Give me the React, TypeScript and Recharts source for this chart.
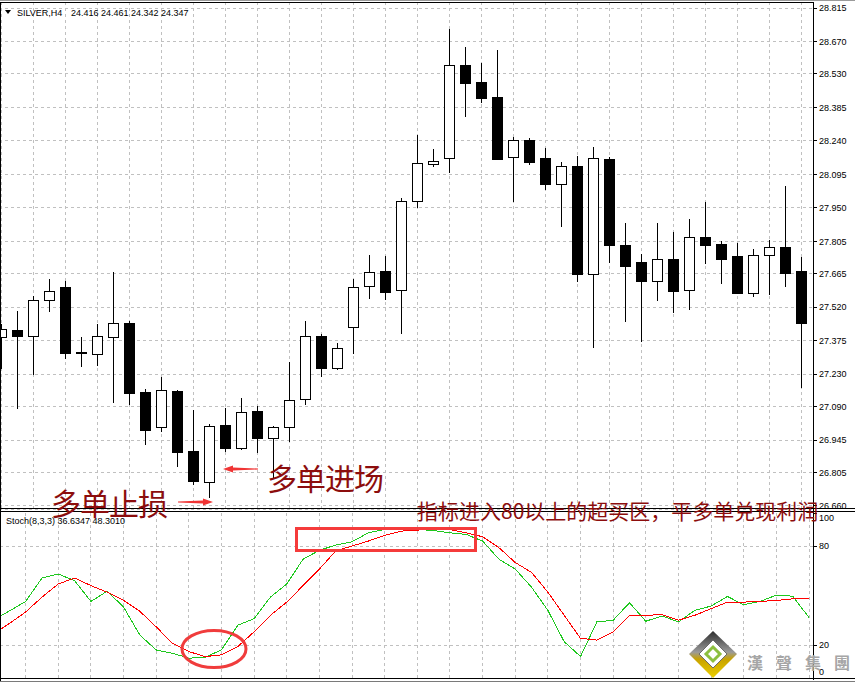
import React from "react";
import {
  ComposedChart,
  Bar,
  Line,
  XAxis,
  YAxis,
  CartesianGrid,
  ReferenceLine,
} from "recharts";

// SILVER H4 bars, oldest first
const opens = [
  27.39, 27.422, 27.397, 27.55, 27.606, 27.326, 27.319, 27.393, 27.451, 27.152,
  27.001, 27.156, 26.897, 26.765, 27.009, 26.912, 27.07, 26.956, 27.003, 27.122,
  27.394, 27.259, 27.433, 27.611, 27.676, 27.593, 27.979, 28.141, 28.165, 28.567,
  28.495, 28.43, 28.169, 28.243, 28.166, 28.055, 28.131, 27.665, 28.16, 27.788,
  27.715, 27.632, 27.729, 27.593, 27.823, 27.792, 27.741, 27.583, 27.745, 27.78,
  27.676,
];
const highs = [
  27.448, 27.504, 27.569, 27.642, 27.634, 27.391, 27.448, 27.671, 27.462, 27.165,
  27.218, 27.162, 27.075, 27.014, 27.085, 27.127, 27.093, 27.005, 27.283, 27.461,
  27.404, 27.367, 27.642, 27.746, 27.743, 27.992, 28.265, 28.204, 28.724, 28.646,
  28.577, 28.633, 28.256, 28.252, 28.209, 28.147, 28.175, 28.214, 28.172, 27.885,
  27.751, 27.885, 27.846, 27.902, 27.976, 27.805, 27.797, 27.772, 27.811, 28.045,
  27.738,
];
const lows = [
  27.257, 27.083, 27.23, 27.505, 27.302, 27.267, 27.27, 27.111, 27.101, 26.927,
  26.986, 26.834, 26.757, 26.7, 26.899, 26.905, 26.895, 26.787, 26.943, 27.103,
  27.224, 27.254, 27.323, 27.561, 27.556, 27.41, 27.954, 28.133, 28.105, 28.349,
  28.41, 28.163, 27.981, 28.141, 28.032, 27.873, 27.635, 27.347, 27.716, 27.462,
  27.374, 27.553, 27.501, 27.513, 27.712, 27.625, 27.583, 27.57, 27.579, 27.613,
  27.176,
];
const closes = [
  27.425, 27.397, 27.55, 27.589, 27.323, 27.32, 27.394, 27.451, 27.15, 26.99,
  27.161, 26.895, 26.77, 27.005, 26.912, 27.066, 26.956, 27.001, 27.119, 27.394,
  27.259, 27.342, 27.606, 27.671, 27.587, 27.979, 28.143, 28.152, 28.567, 28.492,
  28.427, 28.163, 28.243, 28.15, 28.055, 28.131, 27.665, 28.166, 27.791, 27.7,
  27.635, 27.728, 27.592, 27.823, 27.791, 27.73, 27.583, 27.745, 27.78, 27.67,
  27.453,
];

// Stochastic(8,3,3): main %K and signal %D
const stochK = [
  35, 40.6, 46.4, 60.6, 63, 59, 46.4, 52.6, 43, 26,
  17, 15, 12, 12.6, 17, 32, 36, 49, 57, 72,
  77.4, 80.6, 82.6, 88, 90, 90.4, 90, 89.4, 88, 87,
  83, 72, 66, 55, 41, 22, 13, 34, 35, 45.6,
  34.4, 37.6, 34, 41, 43.6, 49.4, 44.4, 46.4, 50.2, 49.6,
  36.6347,
];
const stochD = [
  26.4, 33, 40, 49, 57, 60.6, 56, 52, 47, 40.4,
  31, 21, 16, 13, 14, 19, 28, 38, 46, 56,
  66, 77, 80, 83, 86.4, 89, 89.6, 90.4, 90, 88,
  85.6, 79, 70, 64, 52, 38, 24, 23, 28, 38,
  38, 38.4, 35, 38, 42, 46, 46, 46.4, 47, 48,
  48.301,
];

const priceTicks = [
  28.815, 28.67, 28.53, 28.385, 28.24, 28.095, 27.95, 27.805, 27.665, 27.52,
  27.375, 27.23, 27.09, 26.945, 26.805, 26.66,
];
const stochTicks = [100, 80, 20, 0];
const stochLevels = [80, 20];

const candles = opens.map((o, i) => ({
  i,
  open: o,
  high: highs[i],
  low: lows[i],
  close: closes[i],
  range: [lows[i], highs[i]],
}));
const stochRows = stochK.map((k, i) => ({ i, k, d: stochD[i] }));
const gridTicks = candles.filter((c) => c.i % 2 === 0).map((c) => c.i);

const axisFont = { fontSize: 9, fill: "#000", fontFamily: "Liberation Sans" };
const gridStroke = "#c0c0c0";
const annotRed = "#8c0d0d";

function Candle(props: any) {
  const { x, y, width, height } = props;
  const d = props.payload ?? props;
  if (!isFinite(x) || !isFinite(y) || !height) return null;
  const k = height / (d.high - d.low);
  const py = (v: number) => Math.round(y + (d.high - v) * k);
  const cx = Math.floor(x + width / 2);
  const rising = d.close >= d.open;
  const top = py(Math.max(d.open, d.close));
  const bottom = py(Math.min(d.open, d.close));
  const h = Math.max(bottom - top, 1);
  return (
    <g>
      <rect x={cx} y={py(d.high)} width={1} height={py(d.low) - py(d.high) + 1} fill="#000" />
      {rising ? (
        <rect x={cx - 4.5} y={top + 0.5} width={10} height={h} fill="#fff" stroke="#000" />
      ) : (
        <rect x={cx - 5} y={top} width={11} height={h + 1} fill="#000" />
      )}
    </g>
  );
}

function StochTick(props: any) {
  const { x, y, payload } = props;
  const v = payload.value;
  // the outermost labels sit inside the panel
  const shift = v === 100 ? 5 : v === 0 ? -6 : 0;
  return (
    <text x={x} y={y + shift} dy="0.35em" textAnchor="start" {...axisFont}>
      {v}
    </text>
  );
}

function PricePanel() {
  return (
    <ComposedChart
      width={862}
      height={510}
      data={candles}
      margin={{ top: 2, right: 0, bottom: 1, left: 0 }}
    >
      <CartesianGrid stroke={gridStroke} strokeDasharray="3 3" />
      <XAxis dataKey="i" hide ticks={gridTicks} interval={0} padding={{ left: 0, right: 4 }} />
      <YAxis
        orientation="right"
        domain={[26.647, 28.841]}
        allowDataOverflow
        ticks={priceTicks}
        interval={0}
        width={42}
        axisLine={false}
        tickSize={4}
        tickMargin={2}
        tickLine={{ stroke: "#000" }}
        tick={axisFont}
        tickFormatter={(v: number) => v.toFixed(3)}
      />
      <Bar dataKey="range" barSize={11} shape={<Candle />} isAnimationActive={false} />
    </ComposedChart>
  );
}

function StochPanel() {
  return (
    <ComposedChart
      width={862}
      height={172}
      data={stochRows}
      margin={{ top: 3, right: 0, bottom: 4, left: 0 }}
    >
      <CartesianGrid stroke={gridStroke} strokeDasharray="3 3" horizontal={false} />
      {stochLevels.map((lv) => (
        <ReferenceLine key={lv} y={lv} stroke={gridStroke} strokeDasharray="3 3" />
      ))}
      <XAxis dataKey="i" hide ticks={gridTicks} interval={0} padding={{ left: 0, right: 4 }} />
      <YAxis
        orientation="right"
        domain={[0, 100]}
        ticks={stochTicks}
        interval={0}
        width={42}
        axisLine={false}
        tickSize={4}
        tickMargin={2}
        tickLine={{ stroke: "#000" }}
        tick={<StochTick />}
      />
      <Line dataKey="k" type="linear" stroke="#1ec81e" strokeWidth={1} dot={false} isAnimationActive={false} />
      <Line dataKey="d" type="linear" stroke="#ff0000" strokeWidth={1} dot={false} isAnimationActive={false} />
    </ComposedChart>
  );
}

function Overlay() {
  const cjk = "'Noto Sans CJK SC', 'Noto Sans CJK TC', sans-serif";
  const lastK = stochK[stochK.length - 1].toFixed(4);
  const lastD = stochD[stochD.length - 1].toFixed(4);
  return (
    <svg width={855} height={682} style={{ position: "absolute", left: 0, top: 0 }}>
      <defs>
        <linearGradient id="logoRim" x1="0" y1="0" x2="0" y2="1">
          <stop offset="0" stopColor="#2e2e2e" />
          <stop offset="0.45" stopColor="#9a9a9a" />
          <stop offset="0.6" stopColor="#c8a200" />
          <stop offset="1" stopColor="#ecd000" />
        </linearGradient>
      </defs>

      {/* window frame and panel separators */}
      <g shapeRendering="crispEdges">
        <line x1={0} y1={0.5} x2={855} y2={0.5} stroke="#9a9a9a" />
        <line x1={0} y1={2.5} x2={813} y2={2.5} stroke="#000" />
        <line x1={0.5} y1={2} x2={0.5} y2={682} stroke="#000" />
        <line x1={813.5} y1={2} x2={813.5} y2={680} stroke="#000" />
        <line x1={0} y1={508.5} x2={855} y2={508.5} stroke="#000" />
        <line x1={0} y1={511.5} x2={855} y2={511.5} stroke="#000" />
        <line x1={0} y1={678.5} x2={855} y2={678.5} stroke="#000" />
        <line x1={0} y1={681.5} x2={855} y2={681.5} stroke="#7a7a7a" />
      </g>

      {/* chart headers */}
      <polygon points="5,10 11,10 8,14" fill="#000" />
      <text x={17} y={15.5} {...axisFont}>SILVER,H4</text>
      <text x={71} y={15.5} {...axisFont}>24.416 24.461 24.342 24.347</text>
      <text x={6} y={524} {...axisFont}>{`Stoch(8,3,3) ${lastK} ${lastD}`}</text>

      {/* trade notes */}
      <text x={267} y={490} fontSize={30} letterSpacing={-1} fontFamily={cjk} fill={annotRed}>
        多单进场
      </text>
      <polygon
        points="223,469 233,465.5 233,467.6 258,468.5 258,469.5 233,470.4 233,472.5"
        fill="#f03434"
      />
      <text x={51} y={515} fontSize={30} letterSpacing={-1} fontFamily={cjk} fill={annotRed}>
        多单止损
      </text>
      <polygon
        points="178,501.5 203,500.6 203,498.5 213,502 203,505.5 203,503.4 178,502.5"
        fill="#f03434"
      />
      <text x={417} y={519} fontSize={21} fontFamily={cjk} fill={annotRed}>
        指标进入80以上的超买区，平多单兑现利润
      </text>
      <rect x={296.5} y={528.5} width={179} height={22} fill="none" stroke="#f53b3b" strokeWidth={3} />
      <ellipse cx={214} cy={649} rx={32} ry={18.5} fill="none" stroke="#f03c3c" strokeWidth={3} />

      {/* watermark */}
      <polygon points="713,631 737,654 713,678 689,654" fill="url(#logoRim)" />
      <polygon points="713,640 727,654 713,668 699,654" fill="#fff" stroke="#6a6a6a" />
      <polygon points="713,647 720,654 713,661 706,654" fill="none" stroke="#8cbf3f" strokeWidth={3} />
      <text
        x={747}
        y={669}
        fontSize={16}
        fontWeight={700}
        letterSpacing={13}
        fontFamily="'Noto Sans CJK TC', 'Noto Sans CJK SC', sans-serif"
        fill="#a6a6a6"
      >
        漢聲集團
      </text>
    </svg>
  );
}

export default function App() {
  return (
    <div
      style={{
        position: "absolute",
        left: 0,
        top: 0,
        width: 855,
        height: 682,
        overflow: "hidden",
        background: "#fff",
      }}
    >
      <div style={{ position: "absolute", left: -7, top: 0, shapeRendering: "crispEdges" }}>
        <PricePanel />
      </div>
      <div style={{ position: "absolute", left: -7, top: 510, shapeRendering: "crispEdges" }}>
        <StochPanel />
      </div>
      <Overlay />
    </div>
  );
}
